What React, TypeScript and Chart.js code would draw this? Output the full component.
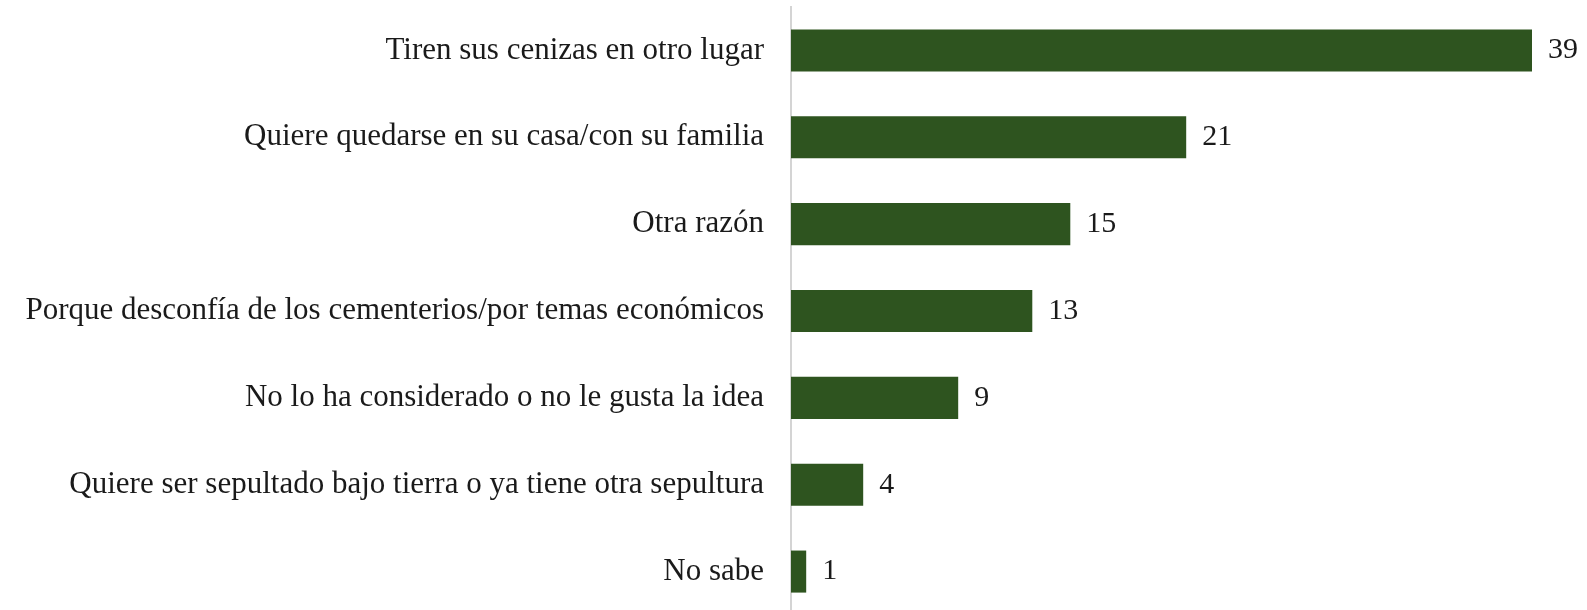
import React, { useEffect, useRef } from "react";
import { Chart, registerables } from "chart.js";

Chart.register(...registerables);

const categories = [
  "Tiren sus cenizas en otro lugar",
  "Quiere quedarse en su casa/con su familia",
  "Otra razón",
  "Porque desconfía de los cementerios/por temas económicos",
  "No lo ha considerado o no le gusta la idea",
  "Quiere ser sepultado bajo tierra o ya tiene otra sepultura",
  "No sabe",
];
const values = [39, 20.8, 14.7, 12.7, 8.8, 3.8, 0.8];
const valueLabels = ["39", "21", "15", "13", "9", "4", "1"];

const FONT = "'Liberation Serif', 'Times New Roman', serif";

const dataLabelPlugin = {
  id: "dataLabels",
  afterDatasetsDraw(chart: any) {
    const ctx = chart.ctx;
    const meta = chart.getDatasetMeta(0);
    ctx.save();
    ctx.font = `30px ${FONT}`;
    ctx.fillStyle = "#1a1a1a";
    ctx.textAlign = "left";
    ctx.textBaseline = "middle";
    meta.data.forEach((el: any, i: number) => {
      ctx.fillText(valueLabels[i], el.x + 16, el.y);
    });
    ctx.restore();
  },
};

export default function App() {
  const ref = useRef<HTMLCanvasElement>(null);
  useEffect(() => {
    if (!ref.current) return;
    const chart = new Chart(ref.current, {
      type: "bar",
      data: {
        labels: categories,
        datasets: [
          {
            data: values,
            backgroundColor: "#2E541F",
            borderWidth: 0,
            categoryPercentage: 1,
            barPercentage: 0.484,
          },
        ],
      },
      options: {
        indexAxis: "y",
        animation: false,
        responsive: true,
        maintainAspectRatio: false,
        layout: { padding: { top: 7, bottom: 0, right: 17, left: 0 } },
        plugins: {
          legend: { display: false },
          tooltip: { enabled: false },
        },
        scales: {
          x: {
            display: false,
            min: 0,
            max: 41,
          },
          y: {
            grid: { display: false, drawTicks: false },
            border: { display: true, color: "#d4d4d4", width: 2 },
            ticks: {
              color: "#1a1a1a",
              font: { family: FONT, size: 31 },
              padding: 27,
            },
            afterFit(scale: any) {
              scale.width = 791;
              scale.paddingTop = 0;
              scale.paddingBottom = 0;
            },
          },
        },
      },
      plugins: [dataLabelPlugin],
    });
    return () => chart.destroy();
  }, []);
  return (
    <div
      style={{
        position: "fixed",
        left: 0,
        top: 0,
        width: 1587,
        height: 610,
        overflow: "hidden",
        background: "#fff",
      }}
    >
      <div style={{ position: "relative", width: 1587, height: 615 }}>
        <canvas ref={ref} />
      </div>
    </div>
  );
}
